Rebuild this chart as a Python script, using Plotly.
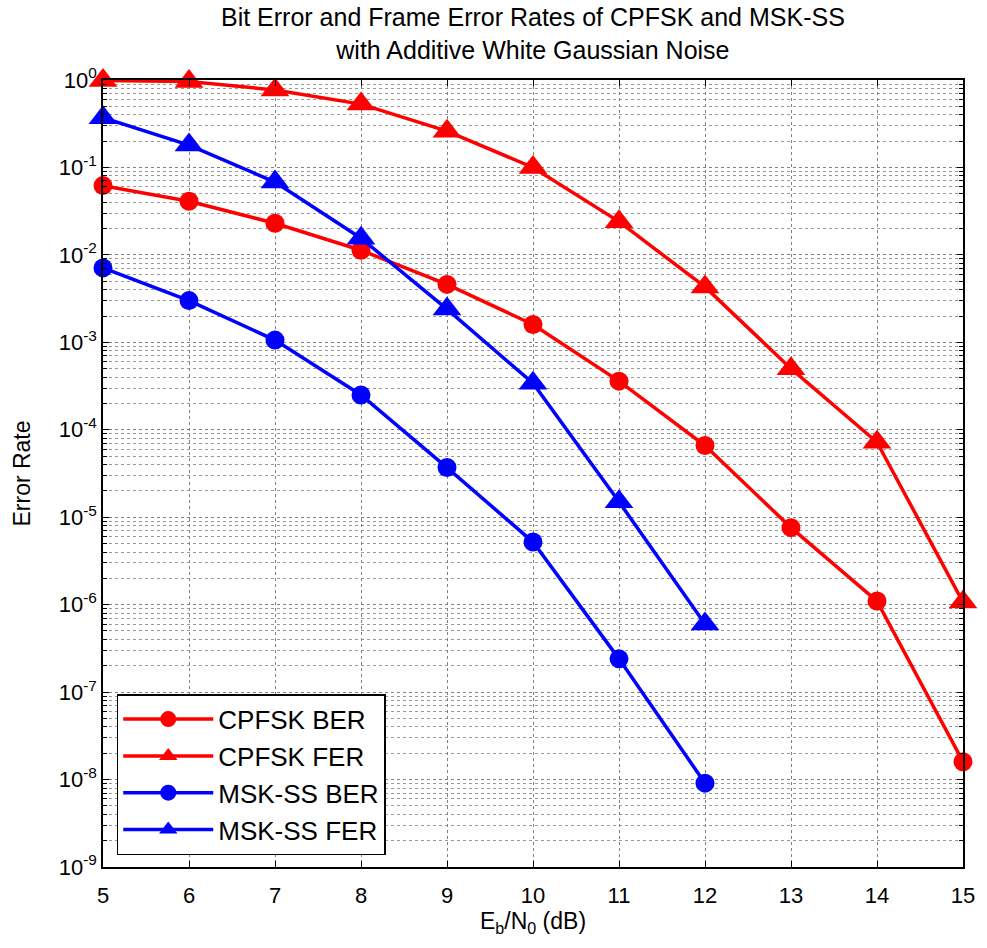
import plotly.graph_objects as go

ebn0 = [5, 6, 7, 8, 9, 10, 11, 12, 13, 14, 15]
cpfsk_ber = [0.062, 0.041, 0.023, 0.0113, 0.0046, 0.0016, 3.6e-4, 6.6e-5, 7.6e-6, 1.1e-6, 1.6e-8]
cpfsk_fer = [0.99, 0.96, 0.77, 0.53, 0.26, 0.10, 0.024, 4.3e-3, 5.0e-4, 7.2e-5, 1.07e-6]
msk_x = [5, 6, 7, 8, 9, 10, 11, 12]
msk_ber = [7.1e-3, 3.0e-3, 1.06e-3, 2.5e-4, 3.7e-5, 5.2e-6, 2.4e-7, 9.1e-9]
msk_fer = [0.37, 0.18, 0.068, 0.0155, 2.4e-3, 3.4e-4, 1.5e-5, 6.0e-7]

ytick_exps = list(range(0, -10, -1))
ytick_vals = [10.0 ** e for e in ytick_exps]
ytick_text = ["10<sup>%d</sup>" % e for e in ytick_exps]

title_text = "Bit Error and Frame Error Rates of CPFSK and MSK-SS<br>with Additive White Gaussian Noise"

series = [
    ("CPFSK BER", ebn0, cpfsk_ber, "red", "circle", 19),
    ("CPFSK FER", ebn0, cpfsk_fer, "red", "triangle-up", 25),
    ("MSK-SS BER", msk_x, msk_ber, "blue", "circle", 19),
    ("MSK-SS FER", msk_x, msk_fer, "blue", "triangle-up", 25),
]

fig = go.Figure()
for name, x, y, c, sym, sz in series:
    fig.add_trace(go.Scatter(
        x=x, y=y, name=name, mode="lines+markers",
        line=dict(color=c, width=3.5),
        marker=dict(symbol=sym, size=sz, color=c),
        cliponaxis=False,
    ))

font = "Liberation Sans, Arial, sans-serif"
fig.update_layout(
    width=987, height=948,
    paper_bgcolor="white", plot_bgcolor="white",
    margin=dict(l=103, r=18, t=80, b=81),
    font=dict(family=font, size=22, color="black"),
    showlegend=True,
    legend=dict(
        x=0.016, y=0.015, xanchor="left", yanchor="bottom",
        bgcolor="white", bordercolor="black", borderwidth=1.5,
        font=dict(size=26, family=font),
        itemwidth=90, tracegroupgap=0,
    ),
    annotations=[dict(
        text=title_text, x=0.5, xref="paper", y=1, yref="paper",
        xanchor="center", yanchor="bottom", yshift=14, showarrow=False,
        font=dict(size=25, family=font), align="center",
    )],
)
fig.update_xaxes(
    range=[5, 15], dtick=1, tick0=5,
    showline=True, linecolor="black", linewidth=1.5, mirror="ticks",
    ticks="inside", ticklen=6, tickcolor="black",
    showgrid=True, gridcolor="#808080", gridwidth=1, griddash="dot",
    zeroline=False, ticklabelstandoff=8,
    title=dict(text="E<sub>b</sub>/N<sub>0</sub> (dB)", standoff=4, font=dict(size=23)),
    tickfont=dict(size=22),
)
fig.update_yaxes(
    type="log", range=[-9, 0],
    tickvals=ytick_vals, ticktext=ytick_text,
    showline=True, linecolor="black", linewidth=1.5, mirror="ticks",
    ticks="inside", ticklen=6, tickcolor="black",
    showgrid=True, gridcolor="#808080", gridwidth=1, griddash="dot",
    minor=dict(dtick="D1", ticks="inside", ticklen=4, tickcolor="black",
               showgrid=True, gridcolor="#999999", griddash="dot", gridwidth=1),
    zeroline=False,
    title=dict(text="Error Rate", standoff=22, font=dict(size=23)),
    tickfont=dict(size=22),
)
fig.write_html(
    "out.html",
    config={"displayModeBar": False},
    post_script="document.body.style.margin='0';document.body.style.overflow='hidden';",
)
